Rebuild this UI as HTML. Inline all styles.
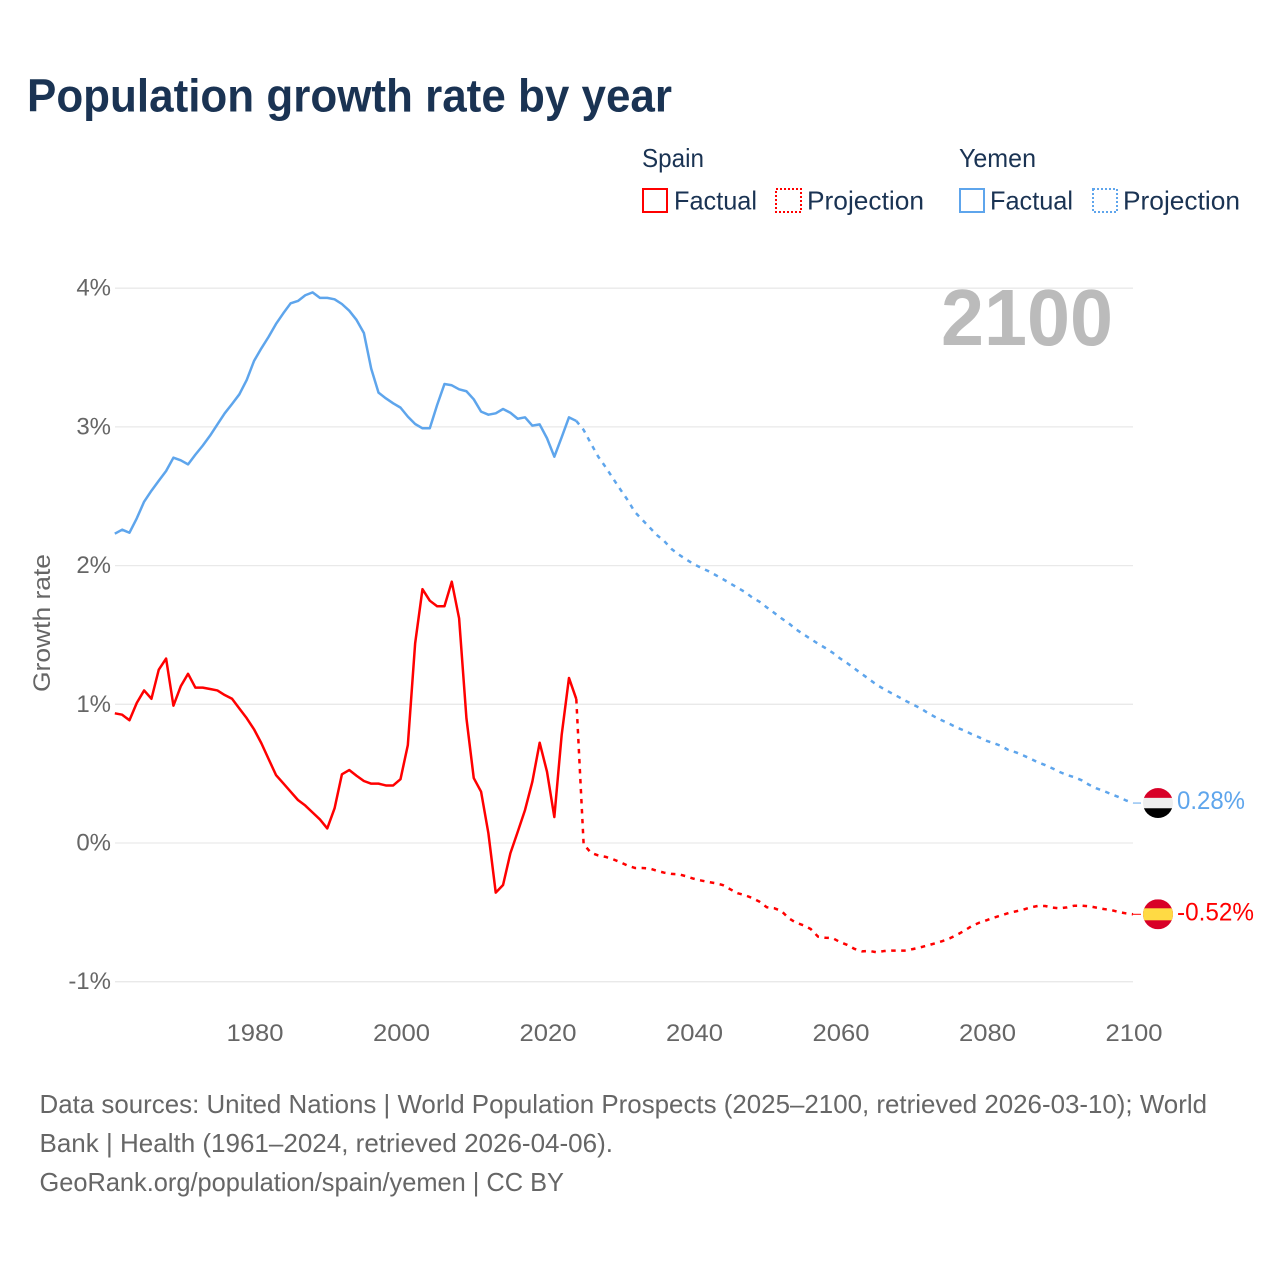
<!DOCTYPE html>
<html lang="en">
<head>
<meta charset="utf-8">
<title>Population growth rate by year</title>
<style>
html,body{margin:0;padding:0;background:#fff;}
svg{display:block;font-family:"Liberation Sans",sans-serif;}
</style>
</head>
<body>
<svg id="chart" xmlns="http://www.w3.org/2000/svg" width="1280" height="1280" viewBox="0 0 1280 1280">
  <rect x="0" y="0" width="1280" height="1280" fill="#ffffff"/>
  <text x="27" y="111.5" font-size="46" font-weight="700" fill="#1a3353" textLength="645" lengthAdjust="spacingAndGlyphs">Population growth rate by year</text>

  <g font-size="26" fill="#1a3353">
    <text x="642" y="167" textLength="62" lengthAdjust="spacingAndGlyphs">Spain</text>
    <text x="959" y="167" textLength="77" lengthAdjust="spacingAndGlyphs">Yemen</text>
    <rect x="643" y="189" width="24" height="23" fill="none" stroke="#ff0000" stroke-width="2"/>
    <text x="674" y="209.5" textLength="83" lengthAdjust="spacingAndGlyphs">Factual</text>
    <rect x="776" y="189" width="25" height="23" fill="none" stroke="#ff0000" stroke-width="2" stroke-dasharray="2 2"/>
    <text x="807" y="209.5" textLength="117" lengthAdjust="spacingAndGlyphs">Projection</text>
    <rect x="960" y="189" width="24" height="23" fill="none" stroke="#5ea5ec" stroke-width="2"/>
    <text x="990" y="209.5" textLength="83" lengthAdjust="spacingAndGlyphs">Factual</text>
    <rect x="1093" y="189" width="24" height="23" fill="none" stroke="#5ea5ec" stroke-width="2" stroke-dasharray="2 2"/>
    <text x="1123" y="209.5" textLength="117" lengthAdjust="spacingAndGlyphs">Projection</text>
  </g>

  <g id="grid"></g>
  <g id="yticks" font-size="24" fill="#666666" text-anchor="end"></g>
  <g id="xticks" font-size="24" fill="#666666" text-anchor="middle"></g>
  <text transform="translate(50 623) rotate(-90)" font-size="24" fill="#666666" text-anchor="middle" textLength="138" lengthAdjust="spacingAndGlyphs">Growth rate</text>
  <text x="941" y="345" font-size="80" font-weight="700" fill="#bbbbbb" textLength="172" lengthAdjust="spacingAndGlyphs">2100</text>
  <g id="series"></g>
  <g id="ends"></g>

  <g font-size="26" fill="#666666">
    <text x="39.5" y="1113" textLength="1167.5" lengthAdjust="spacingAndGlyphs">Data sources: United Nations | World Population Prospects (2025–2100, retrieved 2026-03-10); World</text>
    <text x="39.5" y="1152" textLength="573.5" lengthAdjust="spacingAndGlyphs">Bank | Health (1961–2024, retrieved 2026-04-06).</text>
    <text x="39.5" y="1191" textLength="524.5" lengthAdjust="spacingAndGlyphs">GeoRank.org/population/spain/yemen | CC BY</text>
  </g>
</svg>
<script>
const startYear = 1961;
const xTickYears = [1980, 2000, 2020, 2040, 2060, 2080, 2100];
const yTickValues = [4, 3, 2, 1, 0, -1];
const yTickLabels = ["4%", "3%", "2%", "1%", "0%", "-1%"];

// Spain: factual 1961-2024
const spainFactual = [
  0.935,0.925,0.885,1.01,1.10,1.04,1.25,1.33,0.99,1.13,
  1.22,1.12,1.12,1.11,1.10,1.067,1.04,0.97,0.90,0.82,
  0.72,0.605,0.49,0.43,0.37,0.31,0.27,0.22,0.17,0.105,
  0.25,0.495,0.526,0.485,0.447,0.428,0.428,0.415,0.415,0.46,
  0.706,1.44,1.83,1.747,1.707,1.707,1.884,1.62,0.90,0.468,
  0.37,0.07,-0.358,-0.303,-0.074,0.08,0.238,0.442,0.723,0.514,
  0.187,0.778,1.19,1.038
];
// Spain: projection 2025-2100
const spainProjection = [
  -0.01,-0.07,-0.09,-0.10,-0.117,-0.138,-0.163,-0.18,-0.18,-0.184,
  -0.20,-0.214,-0.223,-0.225,-0.24,-0.257,-0.27,-0.281,-0.29,-0.303,
  -0.333,-0.362,-0.376,-0.396,-0.423,-0.463,-0.47,-0.49,-0.542,-0.575,
  -0.593,-0.62,-0.675,-0.683,-0.686,-0.714,-0.735,-0.764,-0.781,-0.778,
  -0.788,-0.779,-0.776,-0.776,-0.776,-0.764,-0.752,-0.738,-0.723,-0.707,
  -0.687,-0.661,-0.632,-0.598,-0.575,-0.557,-0.538,-0.522,-0.505,-0.493,
  -0.481,-0.464,-0.454,-0.454,-0.466,-0.471,-0.464,-0.452,-0.452,-0.456,
  -0.466,-0.476,-0.483,-0.497,-0.507,-0.514
];
// Yemen: factual 1961-2024
const yemenFactual = [
  2.23,2.259,2.237,2.341,2.461,2.54,2.612,2.682,2.778,2.759,
  2.73,2.80,2.865,2.937,3.018,3.098,3.165,3.235,3.338,3.475,
  3.566,3.65,3.742,3.819,3.891,3.908,3.949,3.97,3.93,3.93,
  3.92,3.886,3.838,3.771,3.677,3.42,3.247,3.206,3.17,3.139,
  3.074,3.021,2.99,2.99,3.158,3.309,3.30,3.271,3.257,3.199,
  3.11,3.088,3.098,3.129,3.102,3.059,3.069,3.009,3.018,2.918,
  2.785,2.925,3.069,3.043
];
// Yemen: projection 2025-2100
const yemenProjection = [
  2.978,2.88,2.785,2.71,2.63,2.55,2.473,2.386,2.331,2.276,
  2.22,2.177,2.12,2.079,2.045,2.012,1.985,1.961,1.932,1.903,
  1.872,1.841,1.81,1.771,1.74,1.699,1.66,1.62,1.584,1.54,
  1.505,1.471,1.437,1.406,1.372,1.331,1.296,1.257,1.218,1.18,
  1.141,1.11,1.081,1.053,1.024,0.997,0.971,0.937,0.908,0.882,
  0.858,0.831,0.81,0.784,0.762,0.737,0.719,0.70,0.67,0.654,
  0.632,0.608,0.582,0.562,0.538,0.512,0.49,0.474,0.452,0.42,
  0.394,0.375,0.353,0.332,0.308,0.288
];
const spainEndLabel = "-0.52%";
const yemenEndLabel = "0.28%";

const SVGNS = "http://www.w3.org/2000/svg";
function xScale(year) { return 255 + (year - 1980) * 7.325; }
function lineX(year) { return xScale(year) - 1; }
function yScale(v) { return 843 - v * 138.7; }
function mk(tag, attrs, parent) {
  const el = document.createElementNS(SVGNS, tag);
  for (const k in attrs) el.setAttribute(k, attrs[k]);
  parent.appendChild(el);
  return el;
}
function pathFor(values, firstYear) {
  return values.map(function (v, i) {
    return (i ? "L" : "M") + lineX(firstYear + i).toFixed(2) + " " + yScale(v).toFixed(2);
  }).join(" ");
}

const grid = document.getElementById("grid");
const yticks = document.getElementById("yticks");
yTickValues.forEach(function (v, i) {
  const line = mk("line", { x1: 115, x2: 1133, y1: yScale(v), y2: yScale(v), stroke: "#e9e9e9", "stroke-width": 1.3 }, grid);
  
  
  const t = mk("text", { x: 111, y: yScale(v) + 7.5 }, yticks);
  t.textContent = yTickLabels[i];
  
  
});

const xticks = document.getElementById("xticks");
xTickYears.forEach(function (yr) {
  const t = mk("text", { x: xScale(yr), y: 1041, textLength: 57, lengthAdjust: "spacingAndGlyphs" }, xticks);
  t.textContent = yr;
  
  
});

const series = document.getElementById("series");
const factualEndYear = startYear + spainFactual.length - 1;
const styleLine = { fill: "none", "stroke-width": 2.5, "stroke-linejoin": "round" };

const yemenF = mk("path", Object.assign({ d: pathFor(yemenFactual, startYear), stroke: "#5ea5ec" }, styleLine), series);


const yemenP = mk("path", Object.assign({ d: pathFor([yemenFactual[yemenFactual.length - 1]].concat(yemenProjection), factualEndYear), stroke: "#5ea5ec", "stroke-dasharray": "4.5 5.5" }, styleLine), series);


const spainF = mk("path", Object.assign({ d: pathFor(spainFactual, startYear), stroke: "#ff0000" }, styleLine), series);


const spainP = mk("path", Object.assign({ d: pathFor([spainFactual[spainFactual.length - 1]].concat(spainProjection), factualEndYear), stroke: "#ff0000", "stroke-dasharray": "4.5 5.5" }, styleLine), series);



const ends = document.getElementById("ends");
const defs = mk("defs", {}, ends);
const endYear = factualEndYear + spainProjection.length;
const flagX = 1158, flagR = 15;

// Yemen end marker
const yEnd = yScale(yemenProjection[yemenProjection.length - 1]);
const yemenLeader = mk("line", { x1: lineX(endYear), x2: flagX - 17, y1: yEnd, y2: yEnd, stroke: "#5ea5ec", "stroke-width": 1 }, ends);


const yClip = mk("clipPath", { id: "clip-yemen" }, defs);
mk("circle", { cx: flagX, cy: yEnd, r: flagR }, yClip);
const yemenFlag = mk("g", { "clip-path": "url(#clip-yemen)" }, ends);


mk("rect", { x: flagX - flagR, y: yEnd - flagR, width: 2 * flagR, height: 10, fill: "#d80027" }, yemenFlag);
mk("rect", { x: flagX - flagR, y: yEnd - 5.2, width: 2 * flagR, height: 10.4, fill: "#eeeeee" }, yemenFlag);
mk("rect", { x: flagX - flagR, y: yEnd + 5.2, width: 2 * flagR, height: 10, fill: "#000000" }, yemenFlag);
const yemenValue = mk("text", { x: 1177, y: yEnd + 6, "font-size": 25, fill: "#5ea5ec", textLength: 68, lengthAdjust: "spacingAndGlyphs" }, ends);
yemenValue.textContent = yemenEndLabel;



// Spain end marker
const sEnd = yScale(spainProjection[spainProjection.length - 1]);
const spainLeader = mk("line", { x1: lineX(endYear), x2: flagX - 17, y1: sEnd, y2: sEnd, stroke: "#ff0000", "stroke-width": 1 }, ends);


const sClip = mk("clipPath", { id: "clip-spain" }, defs);
mk("circle", { cx: flagX, cy: sEnd, r: flagR }, sClip);
const spainFlag = mk("g", { "clip-path": "url(#clip-spain)" }, ends);


mk("rect", { x: flagX - flagR, y: sEnd - flagR, width: 2 * flagR, height: 2 * flagR, fill: "#d80027" }, spainFlag);
mk("rect", { x: flagX - flagR, y: sEnd - 6, width: 2 * flagR, height: 12, fill: "#ffda44" }, spainFlag);
const spainValue = mk("text", { x: 1177, y: sEnd + 6, "font-size": 25, fill: "#ff0000", textLength: 77, lengthAdjust: "spacingAndGlyphs" }, ends);
spainValue.textContent = spainEndLabel;


</script>
</body>
</html>
